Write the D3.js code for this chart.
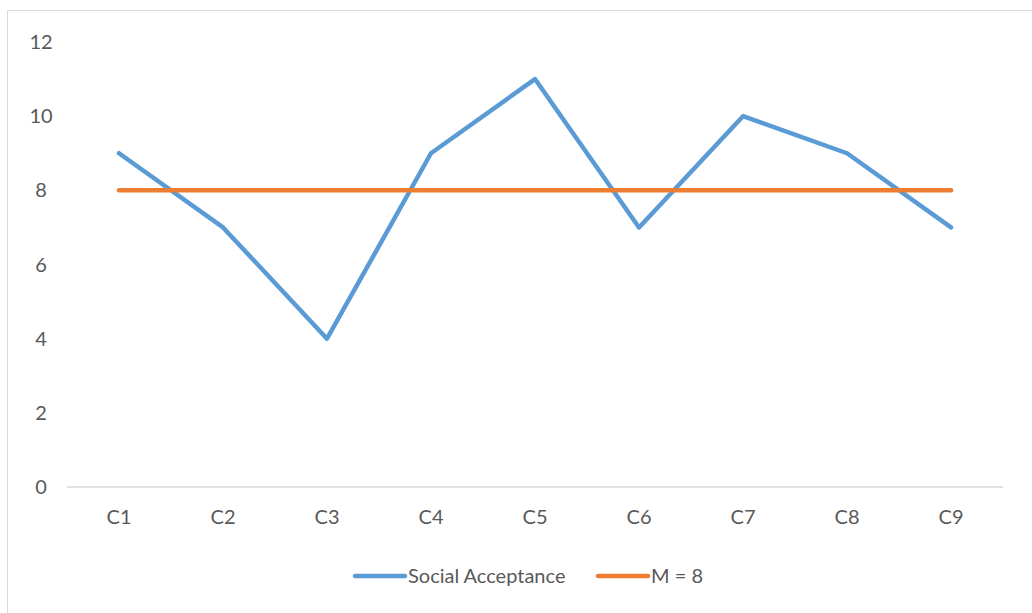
<!DOCTYPE html>
<html>
<head>
<meta charset="utf-8">
<script src="https://cdn.jsdelivr.net/npm/d3@7"></script>
<style>
  body { margin: 0; background: #fff; }
  #chart { position: relative; width: 1032px; height: 613px; }
</style>
</head>
<body>
<div id="chart"></div>
<script>
const categories = ["C1", "C2", "C3", "C4", "C5", "C6", "C7", "C8", "C9"];
const socialAcceptance = [9, 7, 4, 9, 11, 7, 10, 9, 7];
const meanValues = [8, 8, 8, 8, 8, 8, 8, 8, 8];
const yTicks = [0, 2, 4, 6, 8, 10, 12];
const seriesNames = ["Social Acceptance", "M = 8"];
const seriesColors = ["#5b9bd5", "#ed7d31"];

const width = 1032, height = 613;
const font = "Lato, 'Open Sans', sans-serif";

const svg = d3.select("#chart").append("svg")
    .attr("width", width)
    .attr("height", height);

// outer chart border
svg.append("rect")
    .attr("x", 7.5).attr("y", 10.5)
    .attr("width", 1040).attr("height", 620)
    .attr("fill", "none")
    .attr("stroke", "#d9d9d9")
    .attr("stroke-width", 1);

const xScale = d3.scaleBand()
    .domain(categories)
    .range([67, 1003]);

const yScale = d3.scaleLinear()
    .domain([0, 12])
    .range([487, 42]);

// x axis line
svg.append("line")
    .attr("x1", 67).attr("x2", 1003)
    .attr("y1", yScale(0)).attr("y2", yScale(0))
    .attr("stroke", "#d9d9d9")
    .attr("stroke-width", 1.5);

// y tick labels
svg.append("g")
    .selectAll("text")
    .data(yTicks)
    .enter()
    .append("text")
    .attr("x", 41)
    .attr("y", d => yScale(d))
    .attr("dy", "0.35em")
    .style("text-anchor", "middle")
    .style("font-family", font)
    .style("font-size", "20px")
    .style("fill", "#595959")
    .text(d => d);

// x tick labels
svg.append("g")
    .selectAll("text")
    .data(categories)
    .enter()
    .append("text")
    .attr("x", d => xScale(d) + xScale.bandwidth() / 2)
    .attr("y", 517)
    .attr("dy", "0.35em")
    .style("text-anchor", "middle")
    .style("font-family", font)
    .style("font-size", "20px")
    .style("fill", "#595959")
    .text(d => d);

const line = d3.line()
    .x((d, i) => xScale(categories[i]) + xScale.bandwidth() / 2)
    .y(d => yScale(d));

[socialAcceptance, meanValues].forEach((vals, k) => {
    svg.append("path")
        .datum(vals)
        .attr("d", line)
        .attr("fill", "none")
        .attr("stroke", seriesColors[k])
        .attr("stroke-width", 4.5)
        .attr("stroke-linejoin", "round")
        .attr("stroke-linecap", "round");
});

// legend
const legendX = [355, 598];
const legend = svg.append("g");
seriesNames.forEach((name, k) => {
    legend.append("line")
        .attr("x1", legendX[k]).attr("x2", legendX[k] + 50)
        .attr("y1", 576).attr("y2", 576)
        .attr("stroke", seriesColors[k])
        .attr("stroke-width", 4.5)
        .attr("stroke-linecap", "round");
    legend.append("text")
        .attr("x", legendX[k] + 53)
        .attr("y", 576)
        .attr("dy", "0.35em")
        .style("font-family", font)
        .style("font-size", "20px")
        .style("fill", "#595959")
        .text(name);
});
</script>
</body>
</html>
